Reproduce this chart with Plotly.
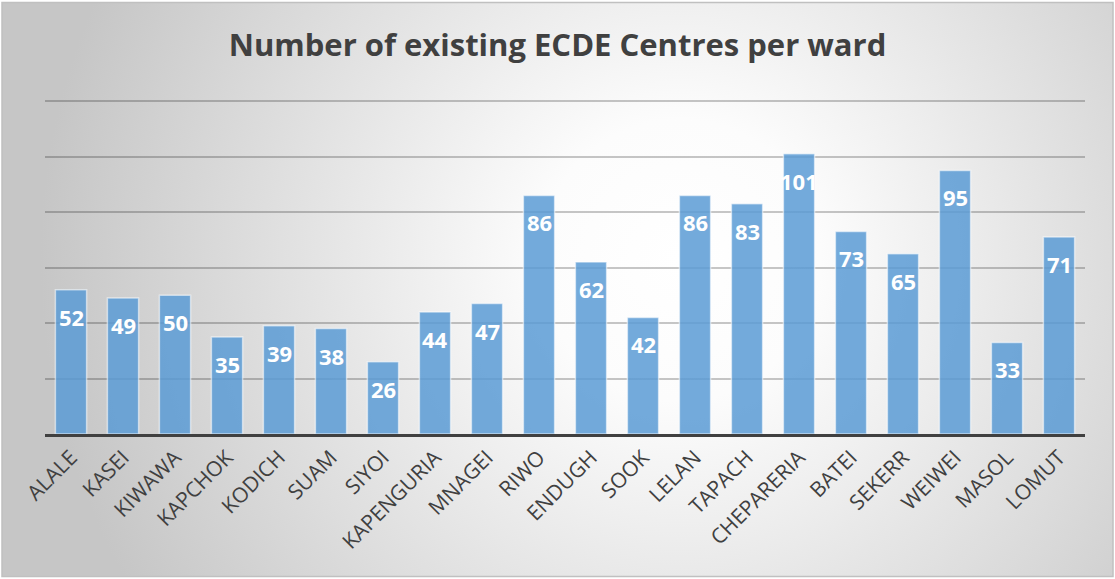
import base64
import plotly.graph_objects as go

wards = ["ALALE", "KASEI", "KIWAWA", "KAPCHOK", "KODICH", "SUAM", "SIYOI", "KAPENGURIA",
         "MNAGEI", "RIWO", "ENDUGH", "SOOK", "LELAN", "TAPACH", "CHEPARERIA", "BATEI",
         "SEKERR", "WEIWEI", "MASOL", "LOMUT"]
centres = [52, 49, 50, 35, 39, 38, 26, 44, 47, 86, 62, 42, 86, 83, 101, 73, 65, 95, 33, 71]

W, H = 1115, 579
L, R, T, B = 45, 30, 100, 145
PW, PH = W - L - R, H - T - B

svg = (
    f"<svg xmlns='http://www.w3.org/2000/svg' width='{W}' height='{H}' viewBox='0 0 {W} {H}' preserveAspectRatio='none'>"
    "<defs><radialGradient id='g' gradientUnits='userSpaceOnUse' cx='680' cy='260' r='640'>"
    "<stop offset='0' stop-color='#ffffff'/><stop offset='0.22' stop-color='#fcfcfc'/>"
    "<stop offset='1' stop-color='#c6c6c6'/></radialGradient></defs>"
    f"<rect x='0' y='0' width='{W}' height='{H}' fill='white'/>"
    f"<rect x='2' y='2.5' width='{W-4}' height='{H-5}' fill='url(#g)' stroke='#c0c0c0' stroke-width='1.5'/>"
    "</svg>"
)
uri = "data:image/svg+xml;base64," + base64.b64encode(svg.encode()).decode()

fig = go.Figure()
fig.add_trace(go.Bar(
    x=wards, y=centres,
    marker=dict(color="rgba(91,155,213,0.85)", line=dict(color="rgba(255,255,255,0.55)", width=1.5)),
    hoverinfo="x+y",
))

for w, v in zip(wards, centres):
    fig.add_annotation(x=w, y=v, text=f"<b>{v}</b>", showarrow=False, yshift=-27,
                       font=dict(family="Open Sans", size=22, color="white"))

fig.update_layout(
    width=W, height=H,
    margin=dict(l=L, r=R, t=T, b=B),
    paper_bgcolor="white",
    plot_bgcolor="rgba(0,0,0,0)",
    bargap=0.4,
    showlegend=False,
    title=dict(text="<b>Number of existing ECDE Centres per ward</b>", x=0.5, xanchor="center",
               y=1 - 45 / H, yanchor="middle",
               font=dict(family="Open Sans", size=31, color="#404040")),
    images=[dict(source=uri, xref="paper", yref="paper", x=-L / PW, y=1 + T / PH,
                 sizex=W / PW, sizey=H / PH, sizing="stretch", xanchor="left", yanchor="top",
                 layer="below")],
    xaxis=dict(showline=True, linecolor="#404040", linewidth=3, tickangle=-45,
               tickfont=dict(family="Open Sans", size=21, color="#404040"), ticks="",
               showgrid=False),
    yaxis=dict(range=[0, 120.4], dtick=20, showticklabels=False, showgrid=True,
               gridcolor="rgba(0,0,0,0.22)", gridwidth=1.5, zeroline=False),
)

fig.write_html("out.html")
